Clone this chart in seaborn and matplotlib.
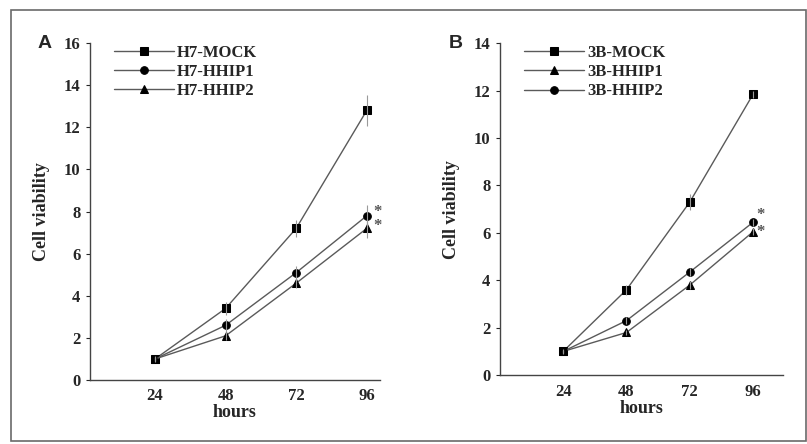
import numpy as np
import pandas as pd
import matplotlib
matplotlib.use("Agg")
import matplotlib.pyplot as plt
import seaborn as sns
from matplotlib.patches import Rectangle

# datos
hours = [24, 48, 72, 96]

a_labels = ['H7-MOCK', 'H7-HHIP1', 'H7-HHIP2']
a_mock = [1.0, 3.4, 7.2, 12.8]
a_mock_err = [0.15, 0.3, 0.4, 0.75]
a_hhip1 = [1.0, 2.6, 5.1, 7.8]
a_hhip1_err = [0.1, 0.3, 0.3, 0.5]
a_hhip2 = [1.0, 2.1, 4.6, 7.2]
a_hhip2_err = [0.1, 0.2, 0.25, 0.45]

b_labels = ['3B-MOCK', '3B-HHIP1', '3B-HHIP2']
b_mock = [1.0, 3.6, 7.3, 11.85]
b_mock_err = [0.1, 0.2, 0.35, 0.15]
b_hhip1 = [1.0, 1.8, 3.8, 6.05]
b_hhip1_err = [0.08, 0.12, 0.15, 0.15]
b_hhip2 = [1.0, 2.3, 4.35, 6.45]
b_hhip2_err = [0.08, 0.15, 0.15, 0.15]

sns.set_style("white")
plt.rcParams['font.family'] = ['Liberation Serif', 'DejaVu Serif']
plt.rcParams['font.weight'] = 'bold'

fig = plt.figure(figsize=(8.07, 4.44), dpi=100)
fig.patch.set_facecolor('white')
# marco exterior
fig.patches.append(Rectangle((11 / 807, 3 / 444), 795 / 807, 431 / 444,
                             transform=fig.transFigure, fill=False,
                             edgecolor='#6a6a6a', linewidth=1.2))

line_color = '#5a5a5a'


def panel(ax, labels, series, errors, markers, ylim, yticks, xlim, letter, stars):
    rows = []
    for lab, vals in zip(labels, series):
        for h, v in zip(hours, vals):
            rows.append({'hours': h, 'value': v, 'grupo': lab})
    df = pd.DataFrame(rows)
    sns.lineplot(data=df, x='hours', y='value', hue='grupo', style='grupo',
                 palette=[line_color] * 3, markers=dict(zip(labels, markers)),
                 dashes=False, markersize=5.5, markerfacecolor='black',
                 markeredgecolor='black', linewidth=1.0, ax=ax, legend=True)
    for vals, err in zip(series, errors):
        ax.errorbar(hours, vals, yerr=err, fmt='none', ecolor='#9a9a9a',
                    elinewidth=0.8, capsize=0)
    ax.set_xlim(*xlim)
    ax.set_ylim(*ylim)
    ax.set_xticks(hours)
    ax.set_yticks(yticks)
    ax.tick_params(axis='x', length=0, labelsize=12, pad=6)
    ax.tick_params(axis='y', length=3, direction='out', left=True, labelsize=12, pad=4)
    for t in ax.get_xticklabels() + ax.get_yticklabels():
        t.set_fontweight('bold')
    sns.despine(ax=ax)
    for s in ['left', 'bottom']:
        ax.spines[s].set_color('#444444')
        ax.spines[s].set_linewidth(1.0)
    ax.set_xlabel('hours', fontsize=13, fontweight='bold', labelpad=0)
    ax.set_ylabel('Cell viability', fontsize=13, fontweight='bold', labelpad=10)
    ax.legend(loc='upper left', bbox_to_anchor=(0.03, 1.04), frameon=False,
              handlelength=3.6, handletextpad=0.2, labelspacing=0.2,
              prop={'family': 'Liberation Serif', 'weight': 'bold', 'size': 12})
    ax.text(-0.155, 1.0, letter, transform=ax.transAxes, fontsize=14,
            fontweight='bold', family='Liberation Sans', ha='center', va='center')
    for (x, y) in stars:
        ax.text(x, y, '*', fontsize=12, fontweight='bold', ha='center',
                va='center', color='#555555')


ax_a = fig.add_axes([0.1115, 0.144, 0.359, 0.759])
panel(ax_a, a_labels, [a_mock, a_hhip1, a_hhip2],
      [a_mock_err, a_hhip1_err, a_hhip2_err], ['s', 'o', '^'],
      (0, 16), range(0, 17, 2), (1.9, 100.4), 'A',
      [(99.8, 8.0), (99.8, 7.3)])

ax_b = fig.add_axes([0.6196, 0.155, 0.351, 0.748])
panel(ax_b, b_labels, [b_mock, b_hhip1, b_hhip2],
      [b_mock_err, b_hhip1_err, b_hhip2_err], ['s', '^', 'o'],
      (0, 14), range(0, 15, 2), (0.1, 107.4), 'B',
      [(98.6, 6.75), (98.6, 6.05)])

fig.savefig('out.png', dpi=100)
